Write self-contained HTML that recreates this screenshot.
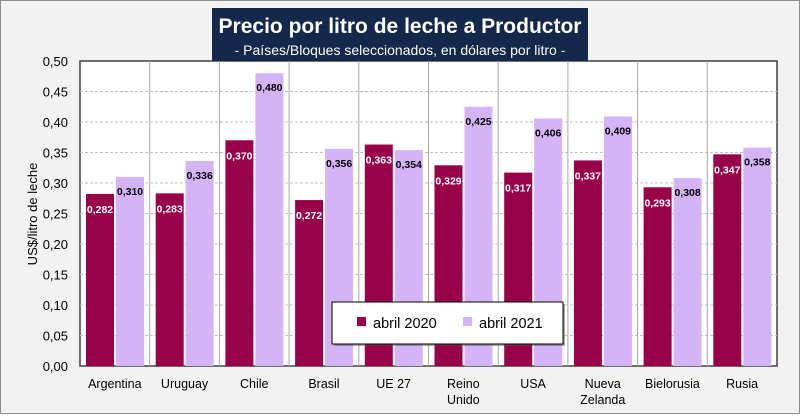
<!DOCTYPE html>
<html><head><meta charset="utf-8"><style>
body{margin:0;width:800px;height:414px;overflow:hidden;background:#fff;font-family:"Liberation Sans",sans-serif}
</style></head><body>
<svg id="c" width="800" height="414" xmlns="http://www.w3.org/2000/svg">
<rect x="0.5" y="0.5" width="799" height="413" fill="#f2f2f2" stroke="#8c8c8c"/>
<rect x="80" y="61" width="697" height="305" fill="#fff" stroke="#404040" stroke-width="1.5"/>
<g id="grid"></g><g id="bars"></g><g id="labels"></g>
<rect x="212" y="8" width="376" height="53" fill="#13284a"/>
<text x="400" y="33" text-anchor="middle" font-size="21" font-weight="bold" fill="#fff">Precio por litro de leche a Productor</text>
<text x="400" y="55" text-anchor="middle" font-size="14" fill="#fff">- Países/Bloques seleccionados, en dólares por litro -</text>
<text transform="translate(37,214) rotate(-90)" text-anchor="middle" font-size="13" fill="#000">US$/litro de leche</text>
<g>
<rect x="334" y="304" width="231" height="42" fill="#555" opacity="0.5"/>
<rect x="332" y="302" width="231" height="42" fill="#fff" stroke="#000"/>
<rect x="357" y="317" width="9" height="9" fill="#99004a"/>
<text x="373" y="328" font-size="14.5">abril 2020</text>
<rect x="463" y="317" width="9" height="9" fill="#d5b3f7"/>
<text x="479" y="328" font-size="14.5">abril 2021</text>
</g>
</svg>
<script>
const categories=[["Argentina"],["Uruguay"],["Chile"],["Brasil"],["UE 27"],["Reino","Unido"],["USA"],["Nueva","Zelanda"],["Bielorusia"],["Rusia"]];
const abril2020=[0.282,0.283,0.370,0.272,0.363,0.329,0.317,0.337,0.293,0.347];
const abril2021=[0.310,0.336,0.480,0.356,0.354,0.425,0.406,0.409,0.308,0.358];
const yTicks=[0,0.05,0.10,0.15,0.20,0.25,0.30,0.35,0.40,0.45,0.50];
const NS="http://www.w3.org/2000/svg";
const x0=80,x1=777,yTop=61,yBot=366,yMax=0.5;
const cw=(x1-x0)/categories.length;
const y=v=>yBot-(v/yMax)*(yBot-yTop);
const xc=i=>x0+i*cw;
function mk(tag,attrs,parent,txt){const e=document.createElementNS(NS,tag);for(const k in attrs)e.setAttribute(k,attrs[k]);if(txt!=null)e.textContent=txt;parent.appendChild(e);return e;}
const grid=document.getElementById('grid'),bars=document.getElementById('bars'),labels=document.getElementById('labels');
const fmt=v=>v.toFixed(2).replace('.',',');
yTicks.forEach(t=>{
  if(t>0&&t<yMax){const l=mk('line',{x1:x0,x2:x1,y1:y(t),y2:y(t),stroke:'#bfbfbf','stroke-dasharray':'3,2'},grid);
  
  }
  const tx=mk('text',{x:68,y:y(t)+5,'text-anchor':'end','font-size':13},labels,fmt(t));
  
  
});
categories.forEach((c,i)=>{
  if(i>0){const l=mk('line',{x1:xc(i),x2:xc(i),y1:yTop,y2:yBot,stroke:'#a6a6a6','stroke-width':1},grid);
  
  }
  const cx=xc(i)+cw/2;
  c.forEach((s,j)=>{const t=mk('text',{x:cx,y:388+j*16,'text-anchor':'middle','font-size':12.5},labels,s);
  
  });
  const a=abril2020[i],b=abril2021[i];
  const bx1=xc(i)+6,bx2=xc(i)+36,bw=28;
  const r1=mk('rect',{x:bx1,y:y(a),width:bw,height:yBot-y(a),fill:'#99004a'},bars);
  
  
  const r2=mk('rect',{x:bx2,y:y(b),width:bw,height:yBot-y(b),fill:'#d5b3f7'},bars);
  
  
  const f3=v=>v.toFixed(3).replace('.',',');
  const t1=mk('text',{x:bx1+bw/2,y:y(a)+19,'text-anchor':'middle','font-size':10.5,'font-weight':'bold',fill:'#fff'},labels,f3(a));
  
  
  const t2=mk('text',{x:bx2+bw/2,y:y(b)+18,'text-anchor':'middle','font-size':10.5,'font-weight':'bold',fill:'#000'},labels,f3(b));
  
  
});
</script>
</body></html>
